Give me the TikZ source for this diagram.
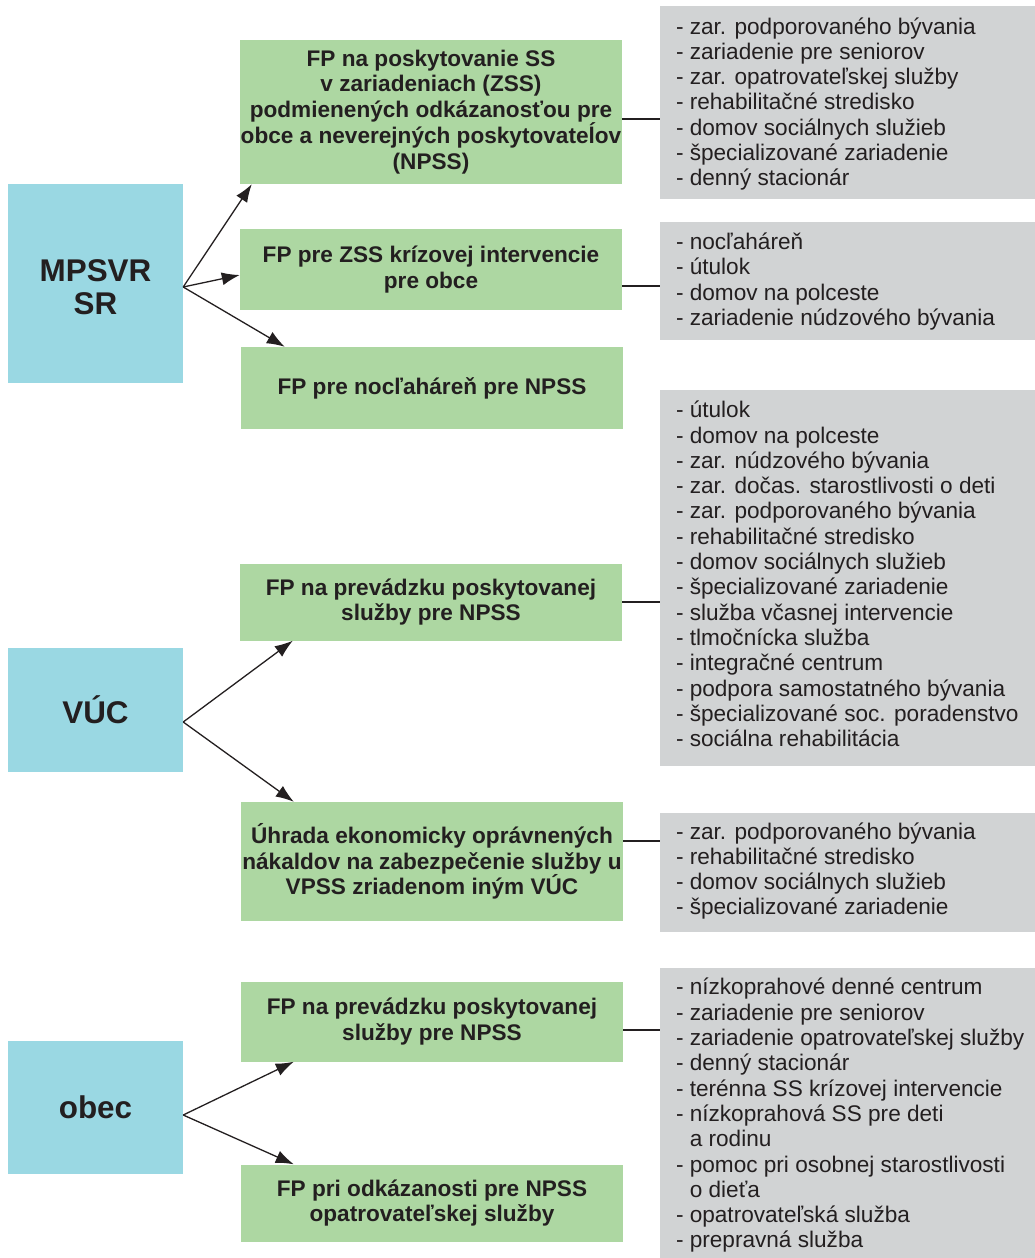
\documentclass[tikz,border=0pt]{standalone}
\usepackage{fontspec}
\setmainfont{Liberation Sans}
\usetikzlibrary{arrows.meta}
\definecolor{blueC}{RGB}{154,216,227}
\definecolor{greenC}{RGB}{173,215,162}
\definecolor{grayC}{RGB}{209,211,212}
\definecolor{textC}{RGB}{35,31,32}
\tikzset{
  bluebox/.style={fill=blueC, draw=none, minimum width=175pt, inner sep=0pt, align=center, text=textC,
    font=\bfseries\fontsize{31.4}{33}\selectfont},
  greenbox/.style={fill=greenC, draw=none, minimum width=382pt, inner sep=0pt, align=center, text=textC,
    font=\bfseries\fontsize{22.6}{25.5}\selectfont},
  graybox/.style={fill=grayC, draw=none, minimum width=375pt, inner sep=0pt},
  graytext/.style={anchor=west, xshift=16pt, inner sep=0pt, align=left, text=textC,
    font=\fontsize{22.6}{25.3}\selectfont},
  arr/.style={draw=textC, line width=1.3pt, -{Latex[length=18pt,width=13pt]}},
  conn/.style={draw=textC, line width=1.2pt}
}
\begin{document}
\begin{tikzpicture}[x=1pt,y=-1pt]
\useasboundingbox (0,0) rectangle (1035,1258);

% left boxes
\node[bluebox, minimum height=199pt] (A) at (95.5,283.5) {};
\node[bluebox, fill=none] (At) at (95.5,287) {MPSVR\\SR};
\node[bluebox, minimum height=124pt] (B) at (95.5,710) {VÚC};
\node[bluebox, minimum height=133pt] (C) at (95.5,1107.5) {obec};

% green boxes
\node[greenbox, minimum height=144pt] (G1) at (431,112) {FP na poskytovanie SS\\v zariadeniach (ZSS)\\podmienených odkázanosťou pre\\obce a neverejných poskytovateĺov\\(NPSS)};
\node[greenbox, minimum height=81pt] (G2) at (431,269.5) {FP pre ZSS krízovej intervencie\\pre obce};
\node[greenbox, minimum height=82pt] (G3) at (432,388) {FP pre nocľaháreň pre NPSS};
\node[greenbox, minimum height=77pt] (G4) at (431,602) {FP na prevádzku poskytovanej\\služby pre NPSS};
\node[greenbox, minimum height=119pt] (G5) at (432,861.5) {Úhrada ekonomicky oprávnených\\nákaldov na zabezpečenie služby u\\VPSS zriadenom iným VÚC};
\node[greenbox, minimum height=80pt] (G6) at (432,1021.5) {FP na prevádzku poskytovanej\\služby pre NPSS};
\node[greenbox, minimum height=77pt] (G7) at (432,1203) {FP pri odkázanosti pre NPSS\\opatrovateľskej služby};

% gray boxes
\node[graybox, minimum height=193pt] (R1) at (847.5,102.5) {};
\node[graybox, minimum height=118pt] (R2) at (847.5,281) {};
\node[graybox, minimum height=376pt] (R3) at (847.5,578) {};
\node[graybox, minimum height=119pt] (R4) at (847.5,872.5) {};
\node[graybox, minimum height=290pt] (R5) at (847.5,1113) {};

\node[graytext] (T1) at (R1.west |- 0,104) {- zar. podporovaného bývania\\- zariadenie pre seniorov\\- zar. opatrovateľskej služby\\- rehabilitačné stredisko\\- domov sociálnych služieb\\- špecializované zariadenie\\- denný stacionár};
\node[graytext] (T2) at (R2.west |- 0,281.5) {- nocľaháreň\\- útulok\\- domov na polceste\\- zariadenie núdzového bývania};
\node[graytext] (T3) at (R3.west |- 0,574) {- útulok\\- domov na polceste\\- zar. núdzového bývania\\- zar. dočas. starostlivosti o deti\\- zar. podporovaného bývania\\- rehabilitačné stredisko\\- domov sociálnych služieb\\- špecializované zariadenie\\- služba včasnej intervencie\\- tlmočnícka služba\\- integračné centrum\\- podpora samostatného bývania\\- špecializované soc. poradenstvo\\- sociálna rehabilitácia};
\node[graytext] (T4) at (R4.west |- 0,871) {- zar. podporovaného bývania\\- rehabilitačné stredisko\\- domov sociálnych služieb\\- špecializované zariadenie};
\node[graytext] (T5) at (R5.west |- 0,1115.5) {- nízkoprahové denné centrum\\- zariadenie pre seniorov\\- zariadenie opatrovateľskej služby\\- denný stacionár\\- terénna SS krízovej intervencie\\- nízkoprahová SS pre deti\\\phantom{- }a rodinu\\- pomoc pri osobnej starostlivosti\\\phantom{- }o dieťa\\- opatrovateľská služba\\- prepravná služba};

% connectors green -> gray
\draw[conn] (G1.east |- 0,119) -- (R1.west |- 0,119);
\draw[conn] (G2.east |- 0,286) -- (R2.west |- 0,286);
\draw[conn] (G4.east |- 0,602) -- (R3.west |- 0,602);
\draw[conn] (G5.east |- 0,841) -- (R4.west |- 0,841);
\draw[conn] (G6.east |- 0,1030) -- (R5.west |- 0,1030);

% arrows
\coordinate (Ao) at (A.east |- 0,287);
\coordinate (Bo) at (B.east |- 0,722);
\coordinate (Co) at (C.east |- 0,1115);
\draw[arr] (Ao) -- ([xshift=12pt]G1.south west);
\draw[arr] (Ao) -- (G2.west |- 0,275);
\draw[arr] (Ao) -- ([xshift=44pt]G3.north west);
\draw[arr] (Bo) -- ([xshift=53pt]G4.south west);
\draw[arr] (Bo) -- ([xshift=53pt]G5.north west);
\draw[arr] (Co) -- ([xshift=53pt]G6.south west);
\draw[arr] (Co) -- ([xshift=53pt]G7.north west);
\end{tikzpicture}
\end{document}
